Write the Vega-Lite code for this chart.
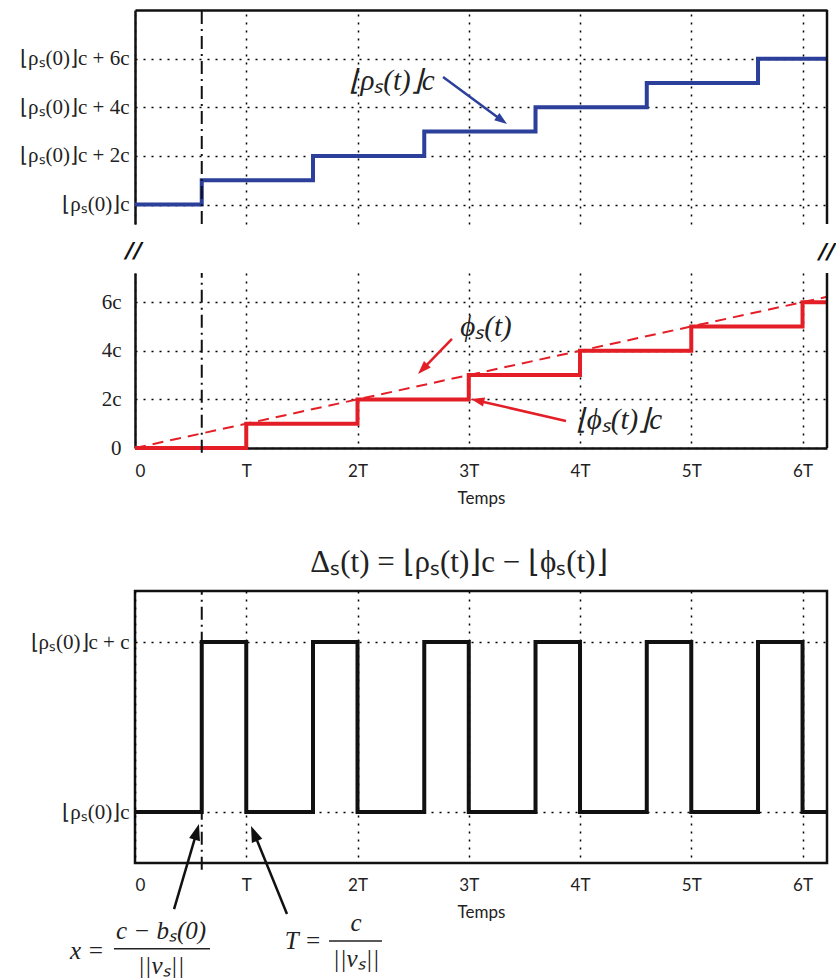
{
  "$schema": "https://vega.github.io/schema/vega-lite/v6.json",
  "padding": {"left": 19, "top": 8, "right": 0, "bottom": 0},
  "spacing": 49,
  "bounds": "flush",
  "config": {
    "view": {"stroke": null},
    "axis": {
      "labelFont": "Lato", "labelFontSize": 17, "labelColor": "#222",
      "titleFont": "Lato", "titleFontSize": 17, "titleFontWeight": "normal", "titleColor": "#222",
      "gridColor": "#000", "gridDash": [2, 6], "gridWidth": 1.5, "gridOpacity": 1,
      "domainColor": "#111", "domainWidth": 2.5, "ticks": false
    }
  },
  "datasets": {
    "rho": [
      {"t": 0, "v": 0}, {"t": 0.6, "v": 1}, {"t": 1.6, "v": 2}, {"t": 2.6, "v": 3},
      {"t": 3.6, "v": 4}, {"t": 4.6, "v": 5}, {"t": 5.6, "v": 6}, {"t": 6.22, "v": 6}
    ],
    "phic": [
      {"t": 0, "v": 0}, {"t": 1, "v": 1}, {"t": 2, "v": 2}, {"t": 3, "v": 3},
      {"t": 4, "v": 4}, {"t": 5, "v": 5}, {"t": 6, "v": 6}, {"t": 6.22, "v": 6}
    ],
    "phi": [{"t": 0, "v": 0}, {"t": 6.22, "v": 6.22}],
    "delta": [
      {"t": 0, "v": 0}, {"t": 0.6, "v": 1}, {"t": 1, "v": 0}, {"t": 1.6, "v": 1},
      {"t": 2, "v": 0}, {"t": 2.6, "v": 1}, {"t": 3, "v": 0}, {"t": 3.6, "v": 1},
      {"t": 4, "v": 0}, {"t": 4.6, "v": 1}, {"t": 5, "v": 0}, {"t": 5.6, "v": 1},
      {"t": 6, "v": 0}, {"t": 6.22, "v": 0}
    ]
  },
  "vconcat": [
    {
      "width": 692, "height": 214,
      "layer": [
        {
          "data": {"name": "rho"},
          "mark": {"type": "line", "interpolate": "step-after", "color": "#2B3F9B", "strokeWidth": 4, "strokeJoin": "miter"},
          "encoding": {
            "x": {"field": "t", "type": "quantitative", "scale": {"domain": [0, 6.22], "nice": false, "zero": false},
              "axis": {"orient": "top", "values": [0, 1, 2, 3, 4, 5, 6], "labels": false, "title": null, "grid": true}},
            "y": {"field": "v", "type": "quantitative", "scale": {"domain": [-0.8, 8], "nice": false, "zero": false},
              "axis": {"values": [0, 2, 4, 6], "title": null, "labelFont": "Liberation Serif", "labelFontSize": 21, "labelPadding": 6,
                "labelExpr": "datum.value == 0 ? '⌊ρₛ(0)⌋c' : '⌊ρₛ(0)⌋c + ' + datum.value + 'c'"}}
          }
        },
        {
          "data": {"values": [{"x": 6.22, "y": -0.8, "y2": 8}]},
          "mark": {"type": "rule", "color": "#111", "strokeWidth": 2.5},
          "encoding": {"x": {"field": "x", "type": "quantitative"}, "y": {"field": "y", "type": "quantitative"}, "y2": {"field": "y2"}}
        },
        {
          "data": {"values": [{"x": 0.6, "y": -0.8, "y2": 8}]},
          "mark": {"type": "rule", "color": "#111", "strokeWidth": 2, "strokeDash": [13, 5, 2, 5]},
          "encoding": {"x": {"field": "x", "type": "quantitative"}, "y": {"field": "y", "type": "quantitative"}, "y2": {"field": "y2"}}
        },
        {
          "data": {"values": [{"x": 2.31, "y": 5.08, "label": "⌊ρₛ(t)⌋c"}]},
          "mark": {"type": "text", "font": "Liberation Serif", "fontStyle": "italic", "fontSize": 29, "color": "#222", "align": "center", "baseline": "middle"},
          "encoding": {"x": {"field": "x", "type": "quantitative"}, "y": {"field": "y", "type": "quantitative"}, "text": {"field": "label"}}
        },
        {
          "data": {"values": [{"x": 2.769, "y": 5.24, "x2": 3.299, "y2": 3.455}]},
          "mark": {"type": "rule", "color": "#2B3F9B", "strokeWidth": 2.5},
          "encoding": {"x": {"field": "x", "type": "quantitative"}, "y": {"field": "y", "type": "quantitative"}, "x2": {"field": "x2"}, "y2": {"field": "y2"}}
        },
        {
          "data": {"values": [{"x": 3.344, "y": 3.31}]},
          "mark": {"type": "point", "shape": "M0,0L0.7,2L-0.7,2Z", "filled": true, "opacity": 1, "color": "#2B3F9B", "size": 160, "angle": 126},
          "encoding": {"x": {"field": "x", "type": "quantitative"}, "y": {"field": "y", "type": "quantitative"}}
        }
      ]
    },
    {
      "width": 692, "height": 175,
      "layer": [
        {
          "data": {"name": "phic"},
          "mark": {"type": "line", "interpolate": "step-after", "color": "#E31E26", "strokeWidth": 4, "strokeJoin": "miter"},
          "encoding": {
            "x": {"field": "t", "type": "quantitative", "scale": {"domain": [0, 6.22], "nice": false, "zero": false},
              "axis": {"values": [0, 1, 2, 3, 4, 5, 6], "title": "Temps", "grid": true, "labelPadding": 15, "titlePadding": 11,
                "labelExpr": "datum.value == 0 ? '0' : datum.value == 1 ? 'T' : datum.value + 'T'"}},
            "y": {"field": "v", "type": "quantitative", "scale": {"domain": [0, 7.2], "nice": false, "zero": false},
              "axis": {"values": [0, 2, 4, 6], "title": null, "labelFont": "Liberation Serif", "labelFontSize": 21, "labelPadding": 14,
                "labelExpr": "datum.value == 0 ? '0' : datum.value + 'c'"}}
          }
        },
        {
          "data": {"name": "phi"},
          "mark": {"type": "line", "color": "#E31E26", "strokeWidth": 2, "strokeDash": [11, 7]},
          "encoding": {"x": {"field": "t", "type": "quantitative"}, "y": {"field": "v", "type": "quantitative"}}
        },
        {
          "data": {"values": [{"x": 6.22, "y": 0, "y2": 7.2}]},
          "mark": {"type": "rule", "color": "#111", "strokeWidth": 2.5},
          "encoding": {"x": {"field": "x", "type": "quantitative"}, "y": {"field": "y", "type": "quantitative"}, "y2": {"field": "y2"}}
        },
        {
          "data": {"values": [{"x": 0.6, "y": -0.2, "y2": 7.2}]},
          "mark": {"type": "rule", "color": "#111", "strokeWidth": 2, "strokeDash": [13, 5, 2, 5]},
          "encoding": {"x": {"field": "x", "type": "quantitative"}, "y": {"field": "y", "type": "quantitative"}, "y2": {"field": "y2"}}
        },
        {
          "data": {"values": [{"x": 3.155, "y": 4.98, "label": "ϕₛ(t)"}, {"x": 4.35, "y": 1.15, "label": "⌊ϕₛ(t)⌋c"}]},
          "mark": {"type": "text", "font": "Liberation Serif", "fontStyle": "italic", "fontSize": 29, "color": "#222", "align": "center", "baseline": "middle"},
          "encoding": {"x": {"field": "x", "type": "quantitative"}, "y": {"field": "y", "type": "quantitative"}, "text": {"field": "label"}}
        },
        {
          "data": {"values": [{"x": -0.01, "y": 8.1, "label": "//"}, {"x": 6.22, "y": 8.06, "label": "//"}]},
          "mark": {"type": "text", "font": "DejaVu Sans", "fontStyle": "italic", "fontWeight": "bold", "fontSize": 22, "color": "#111", "align": "center", "baseline": "middle"},
          "encoding": {"x": {"field": "x", "type": "quantitative"}, "y": {"field": "y", "type": "quantitative"}, "text": {"field": "label"}}
        },
        {
          "data": {"values": [{"x": 2.849, "y": 4.486, "x2": 2.58, "y2": 3.21}, {"x": 3.874, "y": 1.111, "x2": 3.074, "y2": 1.955}]},
          "mark": {"type": "rule", "color": "#E31E26", "strokeWidth": 2.5},
          "encoding": {"x": {"field": "x", "type": "quantitative"}, "y": {"field": "y", "type": "quantitative"}, "x2": {"field": "x2"}, "y2": {"field": "y2"}}
        },
        {
          "data": {"values": [{"x": 2.544, "y": 3.045}]},
          "mark": {"type": "point", "shape": "M0,0L0.7,2L-0.7,2Z", "filled": true, "opacity": 1, "color": "#E31E26", "size": 180, "angle": 224},
          "encoding": {"x": {"field": "x", "type": "quantitative"}, "y": {"field": "y", "type": "quantitative"}}
        },
        {
          "data": {"values": [{"x": 3.02, "y": 2.016}]},
          "mark": {"type": "point", "shape": "M0,0L0.7,2L-0.7,2Z", "filled": true, "opacity": 1, "color": "#E31E26", "size": 180, "angle": 283},
          "encoding": {"x": {"field": "x", "type": "quantitative"}, "y": {"field": "y", "type": "quantitative"}}
        }
      ]
    },
    {
      "width": 692, "height": 45,
      "data": {"values": [{"label": ""}]},
      "mark": {"type": "text"},
      "encoding": {"text": {"field": "label"}}
    },
    {
      "width": 692, "height": 272,
      "view": {"stroke": "#111", "strokeWidth": 2.5},
      "layer": [
        {
          "data": {"name": "delta"},
          "mark": {"type": "line", "interpolate": "step-after", "color": "#111", "strokeWidth": 4, "strokeJoin": "miter"},
          "encoding": {
            "x": {"field": "t", "type": "quantitative", "scale": {"domain": [0, 6.22], "nice": false, "zero": false},
              "axis": {"values": [0, 1, 2, 3, 4, 5, 6], "title": "Temps", "grid": true, "labelPadding": 14, "titlePadding": 11, "domain": false,
                "labelExpr": "datum.value == 0 ? '0' : datum.value == 1 ? 'T' : datum.value + 'T'"}},
            "y": {"field": "v", "type": "quantitative", "scale": {"domain": [-0.3, 1.3], "nice": false, "zero": false},
              "axis": {"values": [0, 1], "title": null, "domain": false, "labelFont": "Liberation Serif", "labelFontSize": 21, "labelPadding": 6,
                "labelExpr": "datum.value == 0 ? '⌊ρₛ(0)⌋c' : '⌊ρₛ(0)⌋c + c'"}}
          }
        },
        {
          "data": {"values": [{"x": 0.6, "y": -0.34, "y2": 1.3}]},
          "mark": {"type": "rule", "color": "#111", "strokeWidth": 2, "strokeDash": [13, 5, 2, 5]},
          "encoding": {"x": {"field": "x", "type": "quantitative"}, "y": {"field": "y", "type": "quantitative"}, "y2": {"field": "y2"}}
        },
        {
          "data": {"values": [{"x": 2.912, "y": 1.465, "label": "Δₛ(t) = ⌊ρₛ(t)⌋c − ⌊ϕₛ(t)⌋"}]},
          "mark": {"type": "text", "font": "Liberation Serif", "fontSize": 31, "color": "#222", "align": "center", "baseline": "middle"},
          "encoding": {"x": {"field": "x", "type": "quantitative"}, "y": {"field": "y", "type": "quantitative"}, "text": {"field": "label"}}
        },
        {
          "data": {"values": [
            {"x": -0.431, "y": -0.818, "label": "x ="},
            {"x": 0.234, "y": -0.7, "label": "c − bₛ(0)"},
            {"x": 0.234, "y": -0.906, "label": "||vₛ||"},
            {"x": 1.51, "y": -0.759, "label": "T ="},
            {"x": 1.987, "y": -0.653, "label": "c"},
            {"x": 1.987, "y": -0.865, "label": "||vₛ||"}
          ]},
          "mark": {"type": "text", "font": "Liberation Serif", "fontStyle": "italic", "fontSize": 25, "color": "#222", "align": "center", "baseline": "middle"},
          "encoding": {"x": {"field": "x", "type": "quantitative"}, "y": {"field": "y", "type": "quantitative"}, "text": {"field": "label"}}
        },
        {
          "data": {"values": [{"x": -0.189, "x2": 0.674, "y": -0.804}, {"x": 1.744, "x2": 2.22, "y": -0.759}]},
          "mark": {"type": "rule", "color": "#222", "strokeWidth": 1.5},
          "encoding": {"x": {"field": "x", "type": "quantitative"}, "x2": {"field": "x2"}, "y": {"field": "y", "type": "quantitative"}}
        },
        {
          "data": {"values": [{"x": 0.351, "y": -0.571, "x2": 0.557, "y2": -0.112}, {"x": 1.366, "y": -0.6, "x2": 1.07, "y2": -0.124}]},
          "mark": {"type": "rule", "color": "#111", "strokeWidth": 2.5},
          "encoding": {"x": {"field": "x", "type": "quantitative"}, "y": {"field": "y", "type": "quantitative"}, "x2": {"field": "x2"}, "y2": {"field": "y2"}}
        },
        {
          "data": {"values": [{"x": 0.575, "y": -0.071}]},
          "mark": {"type": "point", "shape": "M0,0L0.7,2L-0.7,2Z", "filled": true, "opacity": 1, "color": "#111", "size": 260, "angle": 16},
          "encoding": {"x": {"field": "x", "type": "quantitative"}, "y": {"field": "y", "type": "quantitative"}}
        },
        {
          "data": {"values": [{"x": 1.043, "y": -0.082}]},
          "mark": {"type": "point", "shape": "M0,0L0.7,2L-0.7,2Z", "filled": true, "opacity": 1, "color": "#111", "size": 260, "angle": 338},
          "encoding": {"x": {"field": "x", "type": "quantitative"}, "y": {"field": "y", "type": "quantitative"}}
        }
      ]
    }
  ]
}
